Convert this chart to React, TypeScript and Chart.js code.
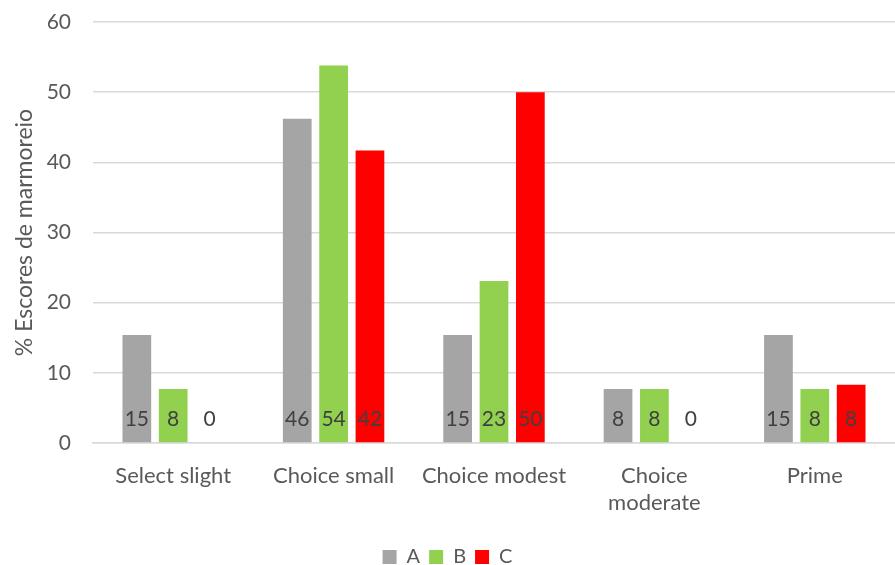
import React, { useEffect, useRef } from "react";
import { Chart, registerables } from "chart.js";

Chart.register(...registerables);

const categories: (string | string[])[] = [
  "Select slight",
  "Choice small",
  "Choice modest",
  ["Choice", "moderate"],
  "Prime",
];
const seriesA = [15.4, 46.2, 15.4, 7.7, 15.4];
const seriesB = [7.7, 53.8, 23.1, 7.7, 7.7];
const seriesC = [0, 41.7, 50, 0, 8.3];
const seriesNames = ["A", "B", "C"];
const seriesColors = ["#a5a5a5", "#92d050", "#ff0000"];
const yTicks = [0, 10, 20, 30, 40, 50, 60];

const FONT = "Lato, 'Open Sans', sans-serif";

const baseLabels = {
  id: "baseLabels",
  afterDatasetsDraw(chart: any) {
    const ctx = chart.ctx;
    ctx.save();
    ctx.font = `21px ${FONT}`;
    ctx.fillStyle = "#404040";
    ctx.textAlign = "center";
    ctx.textBaseline = "middle";
    chart.data.datasets.forEach((ds: any, di: number) => {
      const meta = chart.getDatasetMeta(di);
      meta.data.forEach((el: any, i: number) => {
        const v = ds.data[i];
        const base = chart.scales.y.getPixelForValue(0);
        ctx.fillText(String(Math.round(v)), el.x, base - 24);
      });
    });
    ctx.restore();
  },
};

export default function App() {
  const ref = useRef<HTMLCanvasElement>(null);
  useEffect(() => {
    document.body.style.margin = "0";
    const series = [seriesA, seriesB, seriesC];
    const chart = new Chart(ref.current!, {
      type: "bar",
      data: {
        labels: categories as any,
        datasets: series.map((d, i) => ({
          label: seriesNames[i],
          data: d,
          backgroundColor: seriesColors[i],
          categoryPercentage: 0.68,
          barPercentage: 0.79,
        })),
      },
      options: {
        animation: false,
        responsive: false,
        layout: { padding: { top: 22, right: 0, left: 0, bottom: -12 } },
        plugins: {
          legend: {
            position: "bottom",
            labels: {
              boxWidth: 14,
              boxHeight: 14,
              color: "#595959",
              font: { family: FONT, size: 20 },
              padding: 9,
            },
          },
          tooltip: { enabled: false },
        },
        scales: {
          x: {
            grid: { display: false },
            border: { display: true, color: "#d9d9d9", width: 1.5 },
            afterFit: (s: any) => {
              s.height = 95;
            },
            ticks: {
              color: "#595959",
              font: { family: FONT, size: 22, lineHeight: 1.25 },
              maxRotation: 0,
              autoSkip: false,
              padding: 11,
            },
          },
          y: {
            min: 0,
            max: 60,
            afterBuildTicks: (s: any) => {
              s.ticks = yTicks.map((v) => ({ value: v }));
            },
            afterFit: (s: any) => {
              s.width = 93;
              s.paddingTop = 0;
              s.paddingBottom = 0;
            },
            grid: { color: "#d9d9d9", drawTicks: false, lineWidth: 1.5 },
            border: { display: false },
            ticks: {
              color: "#595959",
              font: { family: FONT, size: 21 },
              padding: 22,
            },
            title: {
              display: true,
              text: "% Escores de marmoreio",
              color: "#595959",
              font: { family: FONT, size: 23 },
              padding: { top: 11, bottom: 0 },
            },
          },
        },
      },
      plugins: [baseLabels],
    });
    return () => chart.destroy();
  }, []);
  return (
    <div style={{ position: "absolute", left: 0, top: 0, width: 895, height: 565 }}>
      <canvas ref={ref} width={895} height={565} />
    </div>
  );
}
